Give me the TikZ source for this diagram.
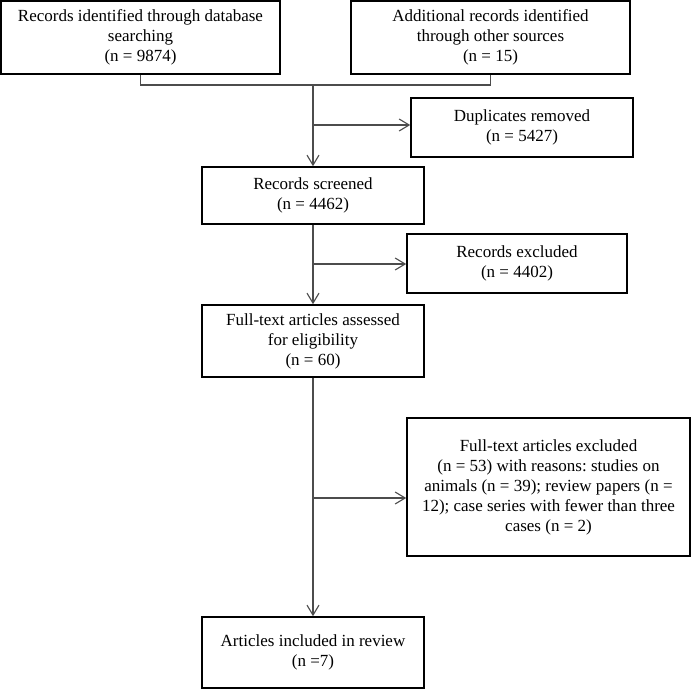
\documentclass[tikz,border=0pt]{standalone}
\usepackage{fontspec}
\setmainfont{Liberation Serif}
\usepackage{xcolor}
\usetikzlibrary{arrows.meta}

\begin{document}
\frenchspacing
\begin{tikzpicture}[x=1pt, y=-1pt,
	box/.style={draw=black, line width=1.6pt, align=center, inner sep=2pt,
		font=\fontsize{17}{20}\selectfont},
	link/.style={draw=black!70, line width=1.1pt},
	arr/.style={link, -{Straight Barb[length=10pt, width=12pt, line width=1.1pt]}}]

\useasboundingbox (0,0) rectangle (691,689);

\node[box, minimum width=279pt, minimum height=73pt] (ident) at (140.5,37.5)
	{Records identified through database\\searching\\(n = 9874)};
\node[box, minimum width=279pt, minimum height=73pt] (other) at (490.5,37.5)
	{Additional records identified\\through other sources\\(n = 15)};

\node[box, minimum width=222pt, minimum height=59pt] (dup) at (522,127.5)
	{Duplicates removed\\(n = 5427)};
\node[box, minimum width=222pt, minimum height=57pt] (screen) at (313,195.5)
	{Records screened\\(n = 4462)};

\node[box, minimum width=220pt, minimum height=59pt] (excl) at (517,263.5)
	{Records excluded\\(n = 4402)};
\node[box, minimum width=222pt, minimum height=72pt] (assess) at (313,341)
	{Full-text articles assessed\\for eligibility\\(n = 60)};

\node[box, minimum width=283pt, minimum height=138pt] (ftexcl) at (548.5,487)
	{Full-text articles excluded\\(n = 53) with reasons: studies on\\animals (n = 39); review papers (n =\\12); case series with fewer than three\\cases (n = 2)};
\node[box, minimum width=222pt, minimum height=71pt] (incl) at (313,652.5)
	{Articles included in review\\(n =7)};

% joining lines
\coordinate (join) at (313,85);
\draw[link] (ident.south) |- (join) -| (other.south);
\draw[arr] (join) -- (screen.north);
\draw[arr] (screen.south) -- (assess.north);
\draw[arr] (assess.south) -- (incl.north);

\coordinate (side1) at (313,125);
\coordinate (side2) at (313,264);
\coordinate (side3) at (313,498);
\draw[arr] (side1) -- (side1 -| dup.west);
\draw[arr] (side2) -- (side2 -| excl.west);
\draw[arr] (side3) -- (side3 -| ftexcl.west);

\end{tikzpicture}
\end{document}
